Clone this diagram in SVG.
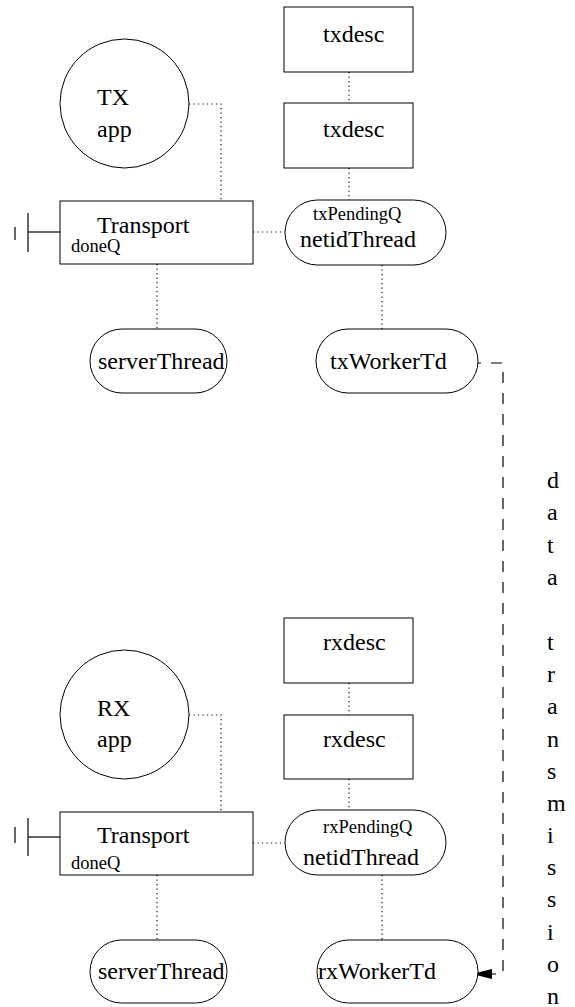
<svg xmlns="http://www.w3.org/2000/svg" width="575" height="1007" viewBox="0 0 575 1007">
<style>
  .shape { fill: #fff; stroke: #000; stroke-width: 1; }
  .bar { fill: none; stroke: #333; stroke-width: 1.5; }
  .dot { fill: none; stroke: #111; stroke-width: 1.2; stroke-dasharray: 1.2 3.3; }
  .dash { fill: none; stroke: #000; stroke-width: 1.2; stroke-dasharray: 11 10; }
  text { font-family: 'Liberation Serif', 'Times New Roman', Times, 'DejaVu Serif', serif; fill: #000; }
  .big { font-size: 24px; }
  .small { font-size: 18.5px; }
</style>
<defs>
  <marker id="arrow" markerWidth="20" markerHeight="10" refX="20" refY="5" orient="auto" markerUnits="userSpaceOnUse">
    <path d="M0,0 L20,5 L0,10 Z" fill="#000"/>
  </marker>
</defs>

<g id="connectors">
  <path class="dot" d="M189,104 H221 V201"/>
  <path class="dot" d="M253,232 H285"/>
  <path class="dot" d="M349,72 V103"/>
  <path class="dot" d="M349,168 V200"/>
  <path class="dot" d="M157,264 V329"/>
  <path class="dot" d="M382,265 V329"/>
  <path class="dot" d="M189,715 H221 V812"/>
  <path class="dot" d="M253,843 H285"/>
  <path class="dot" d="M349,683 V715"/>
  <path class="dot" d="M349,779 V810"/>
  <path class="dot" d="M157,875 V940"/>
  <path class="dot" d="M382,875 V940"/>
  <path class="dash" d="M470,363 H503 V974 H492"/>
  <path d="M492,974 L472,974" stroke="#000" stroke-width="1.2" marker-end="url(#arrow)"/>
</g>

<g id="tx-app">
  <circle class="shape" cx="124.5" cy="103.5" r="64.5"/>
  <text class="big" x="97" y="105" font-family="Liberation Serif, serif">TX</text>
  <text class="big" x="97" y="137">app</text>
</g>
<g id="tx-transport">
  <path class="bar" d="M28,232 H60 M28,213 V252 M15,227 V240"/>
  <rect class="shape" x="60" y="201" width="193" height="63"/>
  <text class="big" x="97" y="233">Transport</text>
  <text class="small" x="71" y="252">doneQ</text>
</g>
<g id="tx-desc-1">
  <rect class="shape" x="284" y="7" width="129" height="65"/>
  <text class="big" x="323" y="42">txdesc</text>
</g>
<g id="tx-desc-2">
  <rect class="shape" x="284" y="103" width="129" height="65"/>
  <text class="big" x="323" y="137">txdesc</text>
</g>
<g id="tx-netid">
  <rect class="shape" x="285" y="200" width="161" height="65" rx="32.5"/>
  <text class="small" x="313" y="220">txPendingQ</text>
  <text class="big" x="300" y="247">netidThread</text>
</g>
<g id="tx-server">
  <rect class="shape" x="90" y="329" width="137" height="64" rx="32"/>
  <text class="big" x="98" y="369">serverThread</text>
</g>
<g id="tx-worker">
  <rect class="shape" x="316" y="329" width="162" height="64" rx="32"/>
  <text class="big" x="330" y="369">txWorkerTd</text>
</g>

<g id="rx-app">
  <circle class="shape" cx="124.5" cy="714.5" r="64.5"/>
  <text class="big" x="97" y="716">RX</text>
  <text class="big" x="97" y="747">app</text>
</g>
<g id="rx-transport">
  <path class="bar" d="M28,837 H60 M28,818 V856 M15,827 V843"/>
  <rect class="shape" x="60" y="812" width="193" height="63"/>
  <text class="big" x="97" y="843">Transport</text>
  <text class="small" x="71" y="869">doneQ</text>
</g>
<g id="rx-desc-1">
  <rect class="shape" x="284" y="618" width="129" height="65"/>
  <text class="big" x="323" y="650">rxdesc</text>
</g>
<g id="rx-desc-2">
  <rect class="shape" x="284" y="715" width="129" height="64"/>
  <text class="big" x="323" y="747">rxdesc</text>
</g>
<g id="rx-netid">
  <rect class="shape" x="285" y="810" width="161" height="65" rx="32.5"/>
  <text class="small" x="323" y="833">rxPendingQ</text>
  <text class="big" x="303" y="865">netidThread</text>
</g>
<g id="rx-server">
  <rect class="shape" x="90" y="940" width="137" height="63" rx="31.5"/>
  <text class="big" x="98" y="979">serverThread</text>
</g>
<g id="rx-worker">
  <rect class="shape" x="317" y="940" width="161" height="63" rx="31.5"/>
  <text class="big" x="318" y="979">rxWorkerTd</text>
</g>

<g id="label-data-transmission">
  <text class="big">
    <tspan x="547" y="488">d</tspan>
    <tspan x="547" y="520">a</tspan>
    <tspan x="547" y="553">t</tspan>
    <tspan x="547" y="585">a</tspan>
    <tspan x="547" y="650">t</tspan>
    <tspan x="547" y="682">r</tspan>
    <tspan x="547" y="714">a</tspan>
    <tspan x="547" y="747">n</tspan>
    <tspan x="547" y="779">s</tspan>
    <tspan x="547" y="811">m</tspan>
    <tspan x="547" y="843">i</tspan>
    <tspan x="547" y="875">s</tspan>
    <tspan x="547" y="907">s</tspan>
    <tspan x="547" y="940">i</tspan>
    <tspan x="547" y="972">o</tspan>
    <tspan x="547" y="1004">n</tspan>
  </text>
</g>
</svg>
